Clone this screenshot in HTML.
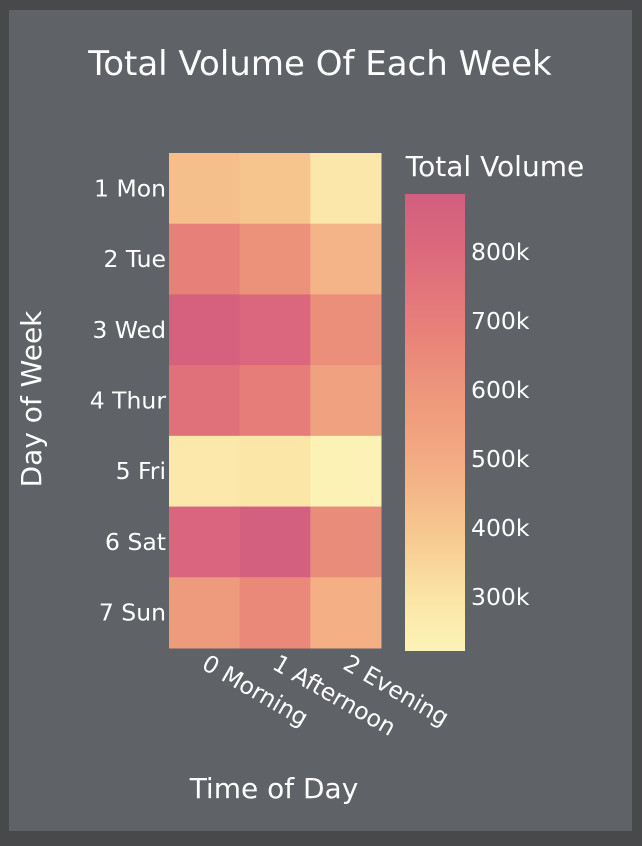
<!DOCTYPE html>
<html><head><meta charset="utf-8">
<style>
html,body{margin:0;padding:0;background:#48494b;}
svg{display:block;font-family:"DejaVu Sans","Liberation Sans",sans-serif;}
</style></head>
<body>
<svg id="chart" width="642" height="846" viewBox="0 0 642 846">
<rect x="0" y="0" width="642" height="846" fill="#48494b"/>
<rect x="9" y="10" width="623" height="821" fill="#5f6266"/>
<text x="320" y="75" fill="#fff" font-size="34" text-anchor="middle">Total Volume Of Each Week</text>
<text x="495" y="176" fill="#fff" font-size="28" text-anchor="middle">Total Volume</text>
<text x="0" y="0" fill="#fff" font-size="28" text-anchor="middle" transform="translate(41,399) rotate(-90)">Day of Week</text>
<text x="274" y="798" fill="#fff" font-size="28" text-anchor="middle">Time of Day</text>
<g id="cells"></g>
<g id="ylabels"></g>
<g id="xlabels"></g>
<defs><linearGradient id="cbg" x1="0" y1="1" x2="0" y2="0"></linearGradient></defs>
<rect x="405" y="194" width="60" height="457" fill="url(#cbg)"/>
<g id="cbticks"></g>
</svg>
<script>
const days = ["1 Mon","2 Tue","3 Wed","4 Thur","5 Fri","6 Sat","7 Sun"];
const times = ["0 Morning","1 Afternoon","2 Evening"];
const mon = [420000, 400000, 285000];
const tue = [690000, 615000, 460000];
const wed = [860000, 820000, 625000];
const thu = [760000, 700000, 545000];
const fri = [280000, 290000, 225000];
const sat = [830000, 870000, 640000];
const sun = [580000, 650000, 480000];
const cbTicks = [300000, 400000, 500000, 600000, 700000, 800000];
const cbTickLabels = ["300k","400k","500k","600k","700k","800k"];
const vmin = 220000, vmax = 883000;
const values = [mon, tue, wed, thu, fri, sat, sun];

const stops = [[0,[253,243,182]],[0.12,[251,228,166]],[0.27,[246,197,142]],[0.42,[243,170,130]],[0.57,[237,150,123]],[0.72,[231,126,121]],[0.87,[220,106,124]],[1,[211,94,128]]];
function colorOf(v){
  let t=(v-vmin)/(vmax-vmin); t=Math.max(0,Math.min(1,t));
  for(let i=1;i<stops.length;i++){ if(t<=stops[i][0]){ const a=stops[i-1],b=stops[i]; const f=(t-a[0])/(b[0]-a[0]); const c=a[1].map((x,k)=>Math.round(x+(b[1][k]-x)*f)); return `rgb(${c.join(',')})`; } }
  return `rgb(${stops[stops.length-1][1].join(',')})`;
}
const NS="http://www.w3.org/2000/svg";
const px0=169, px1=381, py0=153, py1=648;
const cw=(px1-px0)/times.length, ch=(py1-py0)/days.length;
const xPos=i=>px0+i*cw, yPos=j=>py0+j*ch;
const cbY=v=>651-(v-vmin)/(vmax-vmin)*(651-194);

const cells=document.getElementById('cells');
values.forEach((row,j)=>row.forEach((v,i)=>{
  const r=document.createElementNS(NS,'rect');
  r.setAttribute('x',xPos(i)); r.setAttribute('y',yPos(j));
  r.setAttribute('width',cw+0.5); r.setAttribute('height',ch+0.5);
  r.setAttribute('fill',colorOf(v));
  
  
  cells.appendChild(r);
}));
const yl=document.getElementById('ylabels');
days.forEach((d,j)=>{
  const t=document.createElementNS(NS,'text');
  t.setAttribute('x',166); t.setAttribute('y',yPos(j)+ch/2+8);
  t.setAttribute('fill','#fff'); t.setAttribute('font-size','23.5'); t.setAttribute('text-anchor','end');
  t.textContent=d;
  
  
  yl.appendChild(t);
});
const xl=document.getElementById('xlabels');
times.forEach((d,i)=>{
  const cx=xPos(i)+cw/2;
  const t=document.createElementNS(NS,'text');
  t.setAttribute('x',0); t.setAttribute('y',0);
  t.setAttribute('transform',`translate(${cx-4},${668}) rotate(30)`);
  t.setAttribute('fill','#fff'); t.setAttribute('font-size','23.5');
  t.textContent=d;
  
  
  xl.appendChild(t);
});
const g=document.getElementById('cbg');
for(let k=0;k<=20;k++){
  const s=document.createElementNS(NS,'stop');
  s.setAttribute('offset',k/20);
  s.setAttribute('stop-color',colorOf(vmin+(vmax-vmin)*k/20));
  g.appendChild(s);
}
const cbt=document.getElementById('cbticks');
cbTicks.forEach((v,k)=>{
  const t=document.createElementNS(NS,'text');
  t.setAttribute('x',471); t.setAttribute('y',cbY(v)+9);
  t.setAttribute('fill','#fff'); t.setAttribute('font-size','23.5');
  t.textContent=cbTickLabels[k];
  
  
  cbt.appendChild(t);
});
</script>
</body></html>
